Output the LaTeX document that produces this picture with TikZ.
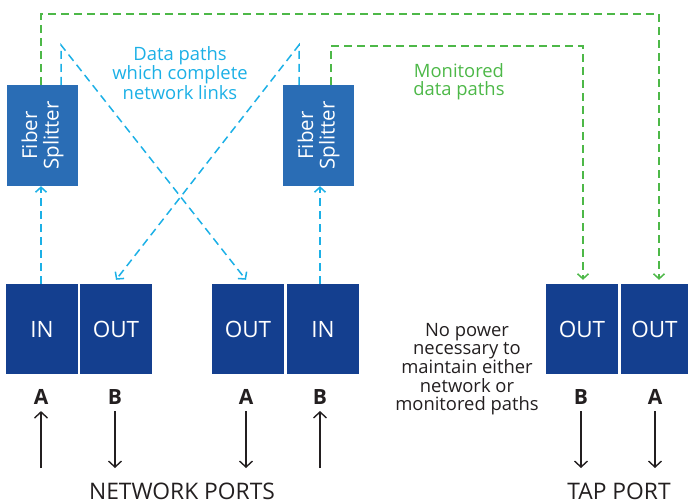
\documentclass[tikz,border=0pt]{standalone}
\usepackage{fontspec}
\setmainfont{Open Sans}
\usetikzlibrary{arrows.meta}
\definecolor{splitblue}{HTML}{2A6DB5}
\definecolor{portblue}{HTML}{143F8F}
\definecolor{cyanline}{HTML}{1CB0E6}
\definecolor{greenline}{HTML}{4DB848}
\definecolor{txtblack}{HTML}{231F20}
\tikzset{
  splitterbox/.style={fill=splitblue, draw=none, minimum width=71pt, minimum height=101pt, inner sep=0pt},
  splittertext/.style={rotate=90, text=white, align=center, font=\fontsize{20.5}{21.5}\selectfont},
  portbox/.style={fill=portblue, draw=none, minimum width=72pt, minimum height=90pt, inner sep=0pt, text=white, font=\fontsize{22.5}{24}\selectfont},
  cyanpath/.style={draw=cyanline, line width=1.5pt, dash pattern=on 8pt off 5pt, -{Straight Barb[length=5pt,width=11pt,line width=1.5pt]}},
  greenpath/.style={draw=greenline, line width=1.5pt, dash pattern=on 8pt off 5pt, -{Straight Barb[length=5pt,width=11pt,line width=1.5pt]}},
  blackarrow/.style={draw=txtblack, line width=1.4pt, -{Straight Barb[length=6pt,width=13pt,line width=1.4pt]}},
  portletter/.style={text=txtblack, font=\fontsize{21}{24}\selectfont\bfseries},
  annot/.style={align=center, font=\fontsize{18.4}{18.2}\selectfont, inner sep=0pt},
  bottomlabel/.style={text=txtblack, font=\fontsize{22.8}{26}\selectfont, inner sep=0pt}
}
\begin{document}
\begin{tikzpicture}[x=1pt,y=-1pt]
\useasboundingbox (0,0) rectangle (688,503);
% splitters
\node[splitterbox] (s1) at (42.5,135.5) {};
\node[splittertext] at (s1) {Fiber\\Splitter};
\node[splitterbox] (s2) at (318.5,135.5) {};
\node[splittertext] at (s2) {Fiber\\Splitter};
% ports
\node[portbox] (p1) at (42,329) {IN};
\node[portbox] (p2) at (116,329) {OUT};
\node[portbox] (p3) at (248,329) {OUT};
\node[portbox] (p4) at (323,329) {IN};
\node[portbox] (t1) at (582,329) {OUT};
\node[portbox, minimum width=67pt] (t2) at (654.5,329) {OUT};
% helper coordinates
\coordinate (c1) at (61,45);
\coordinate (c2) at (299,45);
\coordinate (g1) at (41,14);
\coordinate (g1r) at (659,14);
\coordinate (g2) at (331,46);
\coordinate (g2r) at (583,46);
% cyan paths
\draw[cyanpath] (p1.north -| 41,0) -- (s1.south -| 41,0);
\draw[cyanpath] (p4.north -| 320,0) -- (s2.south -| 320,0);
\draw[cyanpath] (s1.north -| c1) -- (c1) -- ([yshift=4pt]p3.north -| 246,0);
\draw[cyanpath] (s2.north -| c2) -- (c2) -- ([yshift=4pt]p2.north -| 116,0);
% green paths
\draw[greenpath] (s1.north -| g1) -- (g1) -- (g1r) -- ([yshift=4pt]t2.north -| g1r);
\draw[greenpath] (s2.north -| g2) -- (g2) -- (g2r) -- ([yshift=4pt]t1.north -| g2r);
% annotations
\node[annot, text=cyanline] (dp) at (180,73) {Data paths\\which complete\\network links};
\node[annot, text=greenline] (mp) at (459,82) {Monitored\\data paths};
\node[annot, text=txtblack] (np) at (467,369) {No power\\necessary to\\maintain either\\network or\\monitored paths};
% letters
\node[portletter] (la1) at (41,397) {A};
\node[portletter] (lb1) at (115,397) {B};
\node[portletter] (la2) at (246,397) {A};
\node[portletter] (lb2) at (320,397) {B};
\node[portletter] (lb3) at (581,397) {B};
\node[portletter] (la3) at (655,397) {A};
% black arrows
\coordinate (e1) at (41,468);
\coordinate (e2) at (115,468);
\coordinate (e3) at (246,468);
\coordinate (e4) at (320,468);
\coordinate (e5) at (581,468);
\coordinate (e6) at (655,468);
\draw[blackarrow] (e1) -- ([yshift=-3pt]la1.south);
\draw[blackarrow] ([yshift=-3pt]lb1.south) -- (e2);
\draw[blackarrow] ([yshift=-3pt]la2.south) -- (e3);
\draw[blackarrow] (e4) -- ([yshift=-3pt]lb2.south);
\draw[blackarrow] ([yshift=-3pt]lb3.south) -- (e5);
\draw[blackarrow] ([yshift=-3pt]la3.south) -- (e6);
% bottom labels
\node[bottomlabel] (np2) at (182,491) {NETWORK PORTS};
\node[bottomlabel] (tp) at (619,491) {TAP PORT};
\end{tikzpicture}
\end{document}
